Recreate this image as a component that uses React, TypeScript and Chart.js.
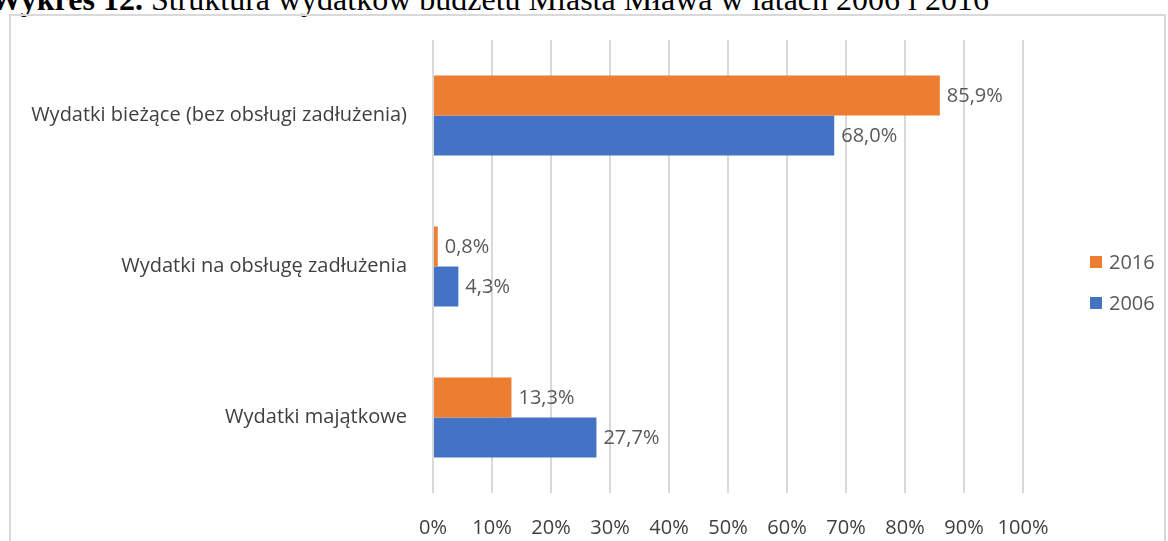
import React, { useEffect, useRef } from "react";
import { Chart, registerables } from "chart.js";

Chart.register(...registerables);

const categories = [
  "Wydatki bieżące (bez obsługi zadłużenia)",
  "Wydatki na obsługę zadłużenia",
  "Wydatki majątkowe",
];
const seriesLabels = ["2016", "2006"];
const values2016 = [85.9, 0.8, 13.3];
const values2006 = [68.0, 4.3, 27.7];
const seriesColors = ["#ED7D31", "#4472C4"];
const xTickMin = 0;
const xTickMax = 100;
const xTickStep = 10;

const FONT = "'Open Sans', 'Noto Sans', sans-serif";
const FS = 20;

const fmt = (v: number) => v.toFixed(1).replace(".", ",") + "%";

const dataLabelsPlugin = {
  id: "dataLabels",
  afterDatasetsDraw(chart: any) {
    const ctx = chart.ctx;
    ctx.save();
    ctx.font = `${FS}px ${FONT}`;
    ctx.fillStyle = "#595959";
    ctx.textAlign = "left";
    ctx.textBaseline = "middle";
    chart.data.datasets.forEach((ds: any, di: number) => {
      const meta = chart.getDatasetMeta(di);
      meta.data.forEach((bar: any, i: number) => {
        ctx.fillText(fmt(ds.data[i]), bar.x + 7, bar.y + 1);
      });
    });
    ctx.restore();
  },
};

const sideLegendPlugin = {
  id: "sideLegend",
  afterDraw(chart: any) {
    const ctx = chart.ctx;
    const area = chart.chartArea;
    const mid = (area.top + area.bottom) / 2;
    ctx.save();
    ctx.font = `${FS}px ${FONT}`;
    ctx.textAlign = "left";
    ctx.textBaseline = "middle";
    chart.data.datasets.forEach((ds: any, i: number) => {
      const y = mid + 16 + (i - 0.5) * 41;
      const x = area.right + 67;
      ctx.fillStyle = ds.backgroundColor;
      ctx.fillRect(x, y - 6, 12, 12);
      ctx.fillStyle = "#595959";
      ctx.fillText(ds.label, x + 19, y + 1);
    });
    ctx.restore();
  },
};

export default function App() {
  const ref = useRef<HTMLCanvasElement | null>(null);

  useEffect(() => {
    if (!ref.current) return;
    const chart = new Chart(ref.current, {
      type: "bar",
      data: {
        labels: categories,
        datasets: [
          {
            label: seriesLabels[0],
            data: values2016,
            backgroundColor: seriesColors[0],
            categoryPercentage: 0.53,
            barPercentage: 1.0,
          },
          {
            label: seriesLabels[1],
            data: values2006,
            backgroundColor: seriesColors[1],
            categoryPercentage: 0.53,
            barPercentage: 1.0,
          },
        ],
      },
      options: {
        indexAxis: "y",
        animation: false,
        responsive: false,
        maintainAspectRatio: false,
        layout: { padding: { top: 40, right: 145, bottom: 0, left: 0 } },
        plugins: {
          legend: { display: false },
          tooltip: { enabled: false },
          title: { display: false },
        },
        scales: {
          x: {
            min: xTickMin,
            max: xTickMax,
            grid: { color: "#d9d9d9", lineWidth: 2, drawTicks: false },
            border: { display: false },
            ticks: {
              stepSize: xTickStep,
              padding: 23,
              color: "#404040",
              font: { family: FONT, size: FS },
              callback: (v: any) => v + "%",
            },
            afterFit: (scale: any) => {
              scale.height = 48;
            },
          },
          y: {
            grid: { display: false, drawTicks: false },
            border: { display: false },
            ticks: {
              padding: 26,
              color: "#404040",
              font: { family: FONT, size: FS },
            },
            afterFit: (scale: any) => {
              scale.width = 433;
            },
          },
        },
      },
      plugins: [dataLabelsPlugin, sideLegendPlugin],
    });
    return () => chart.destroy();
  }, []);

  return (
    <div
      style={{
        position: "fixed",
        left: 0,
        top: 0,
        width: 1168,
        height: 541,
        overflow: "hidden",
        background: "#fff",
      }}
    >
      <div
        style={{
          position: "absolute",
          left: -10,
          top: -17,
          whiteSpace: "nowrap",
          fontFamily: "'Liberation Serif', 'Times New Roman', serif",
          fontSize: 32,
          lineHeight: "32px",
          color: "#000",
        }}
      >
        <b>Wykres 12.</b> Struktura wydatków budżetu Miasta Mława w latach 2006 i 2016
      </div>
      <div
        style={{
          position: "absolute",
          left: 9,
          top: 14,
          width: 1157,
          height: 600,
          border: "2px solid #d9d9d9",
          boxSizing: "border-box",
        }}
      />
      <canvas
        ref={ref}
        width={1168}
        height={541}
        style={{ position: "absolute", left: 0, top: 0, width: 1168, height: 541 }}
      />
    </div>
  );
}
